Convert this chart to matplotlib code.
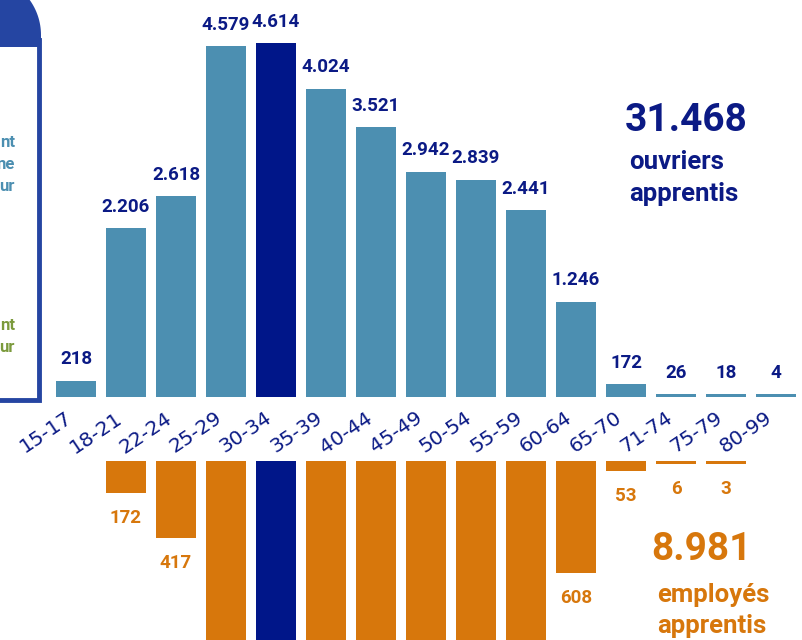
import matplotlib
matplotlib.use("Agg")
import numpy as np
import matplotlib.pyplot as plt
from matplotlib.patches import Rectangle, Polygon
from matplotlib.transforms import ScaledTranslation

# ---------------- data ----------------
categories = ["15-17", "18-21", "22-24", "25-29", "30-34", "35-39", "40-44", "45-49",
              "50-54", "55-59", "60-64", "65-70", "71-74", "75-79", "80-99"]
ouvriers = [218, 2206, 2618, 4579, 4614, 4024, 3521, 2942, 2839, 2441, 1246, 172, 26, 18, 4]
ouvriers_labels = ["218", "2.206", "2.618", "4.579", "4.614", "4.024", "3.521", "2.942",
                   "2.839", "2.441", "1.246", "172", "26", "18", "4"]
# bars 25-29 ... 55-59 run off the bottom of the picture (values estimated)
employes = [0, 172, 417, 1040, 1130, 1160, 1120, 1100, 1110, 1062, 608, 53, 6, 3, 0]
employes_labels = ["", "172", "417", "", "", "", "", "", "", "", "608", "53", "6", "3", ""]
highlight = "30-34"
total_ouvriers = "31.468"
total_employes = "8.981"

# ---------------- style ----------------
STEEL = "#4c8fb1"
NAVY = "#001689"
NAVY_TXT = "#0b1a85"
ORANGE = "#d7770c"
FRAME = "#2545a2"
GREEN = "#7b9a3c"
FONT = "Roboto"

W, H = 803, 640
fig = plt.figure(figsize=(W / 100, H / 100), dpi=100)

# x: bar centres at 76 + 50*i px
x_lo = -76 / 50
x_hi = (W - 76) / 50

# top axes: baseline at row 397.3, 0.0767 px per unit
base_top = 397.3
sc_top = 0.0767
ax_t = fig.add_axes([0, (H - base_top) / H, 1, base_top / H])
ax_t.set_xlim(x_lo, x_hi)
ax_t.set_ylim(0, base_top / sc_top)

# bottom axes: starts at row 461, 0.1837 px per unit
top_bot = 461
sc_bot = 0.1837
ax_b = fig.add_axes([0, 0, 1, (H - top_bot) / H])
ax_b.set_xlim(x_lo, x_hi)
ax_b.set_ylim((H - top_bot) / sc_bot, 0)

for ax in (ax_t, ax_b):
    ax.axis("off")

min_t = 3 / sc_top
min_b = 3 / sc_bot

for i, (c, v, lab) in enumerate(zip(categories, ouvriers, ouvriers_labels)):
    col = NAVY if c == highlight else STEEL
    h = max(v, min_t)
    ax_t.bar(i, h, width=0.8, color=col, linewidth=0)
    ax_t.annotate(lab, (i, h), xytext=(0, 9), textcoords="offset points",
                  ha="center", va="bottom", fontsize=13.5, fontweight="bold",
                  color=NAVY_TXT, family=FONT)

for i, (c, v, lab) in enumerate(zip(categories, employes, employes_labels)):
    if v <= 0:
        continue
    col = NAVY if c == highlight else ORANGE
    h = max(v, min_b)
    ax_b.bar(i, h, width=0.8, color=col, linewidth=0)
    if lab:
        ax_b.annotate(lab, (i, h), xytext=(0, -11.5), textcoords="offset points",
                      ha="center", va="top", fontsize=13.5, fontweight="bold",
                      color=ORANGE, family=FONT)

# category labels (rotated)
off = ScaledTranslation(-11 / 100, -11 / 100, fig.dpi_scale_trans)
for i, c in enumerate(categories):
    ax_t.text(i, 0, c, transform=ax_t.transData + off, rotation=34,
              rotation_mode="anchor", ha="right", va="top",
              fontsize=14.5, color=NAVY_TXT, family="DejaVu Sans")

# totals
fig.text(625 / W, 1 - 131 / H, total_ouvriers, fontsize=28, fontweight="bold",
         color=NAVY_TXT, family=FONT, ha="left", va="baseline")
fig.text(629 / W, 1 - 169 / H, "ouvriers", fontsize=18.5, fontweight="bold",
         color=NAVY_TXT, family=FONT, ha="left", va="baseline")
fig.text(629 / W, 1 - 201 / H, "apprentis", fontsize=18.5, fontweight="bold",
         color=NAVY_TXT, family=FONT, ha="left", va="baseline")

fig.text(651 / W, 1 - 560 / H, total_employes, fontsize=28, fontweight="bold",
         color=ORANGE, family=FONT, ha="left", va="baseline")
fig.text(657 / W, 1 - 602 / H, "employés", fontsize=18.5, fontweight="bold",
         color=ORANGE, family=FONT, ha="left", va="baseline")
fig.text(657 / W, 1 - 633 / H, "apprentis", fontsize=18.5, fontweight="bold",
         color=ORANGE, family=FONT, ha="left", va="baseline")

# ---------------- left legend box (cut off at the edge) ----------------
def fr(x, y):
    return (x / W, 1 - y / H)

# frame
fig.patches.append(Rectangle(fr(-10, 400), 49 / W, (400 - 40) / H,
                             transform=fig.transFigure, fill=False,
                             edgecolor=FRAME, linewidth=3.5))
# header: square bottom, big rounded top-right corner
r, cx, cy = 60.0, -19.0, 35.0
ang = np.linspace(0, np.pi / 2, 40)
arc = [(cx + r * np.cos(a), cy - r * np.sin(a)) for a in ang]
arc = [(x, y) for x, y in arc if y >= -2]
pts = [(-10, 47), (41, 47)] + arc + [(-10, -2)]
fig.patches.append(Polygon([fr(x, y) for x, y in pts], closed=True,
                           transform=fig.transFigure, facecolor=FRAME,
                           edgecolor="none"))
for txt, y in (("nt", 147), ("ne", 169), ("ur", 191)):
    fig.text(15 / W, 1 - y / H, txt, fontsize=12, fontweight="bold", color=STEEL,
             family=FONT, ha="right", va="baseline")
for txt, y in (("nt", 330), ("ur", 352)):
    fig.text(15 / W, 1 - y / H, txt, fontsize=12, fontweight="bold", color=GREEN,
             family=FONT, ha="right", va="baseline")

fig.savefig("out.png", dpi=100)
